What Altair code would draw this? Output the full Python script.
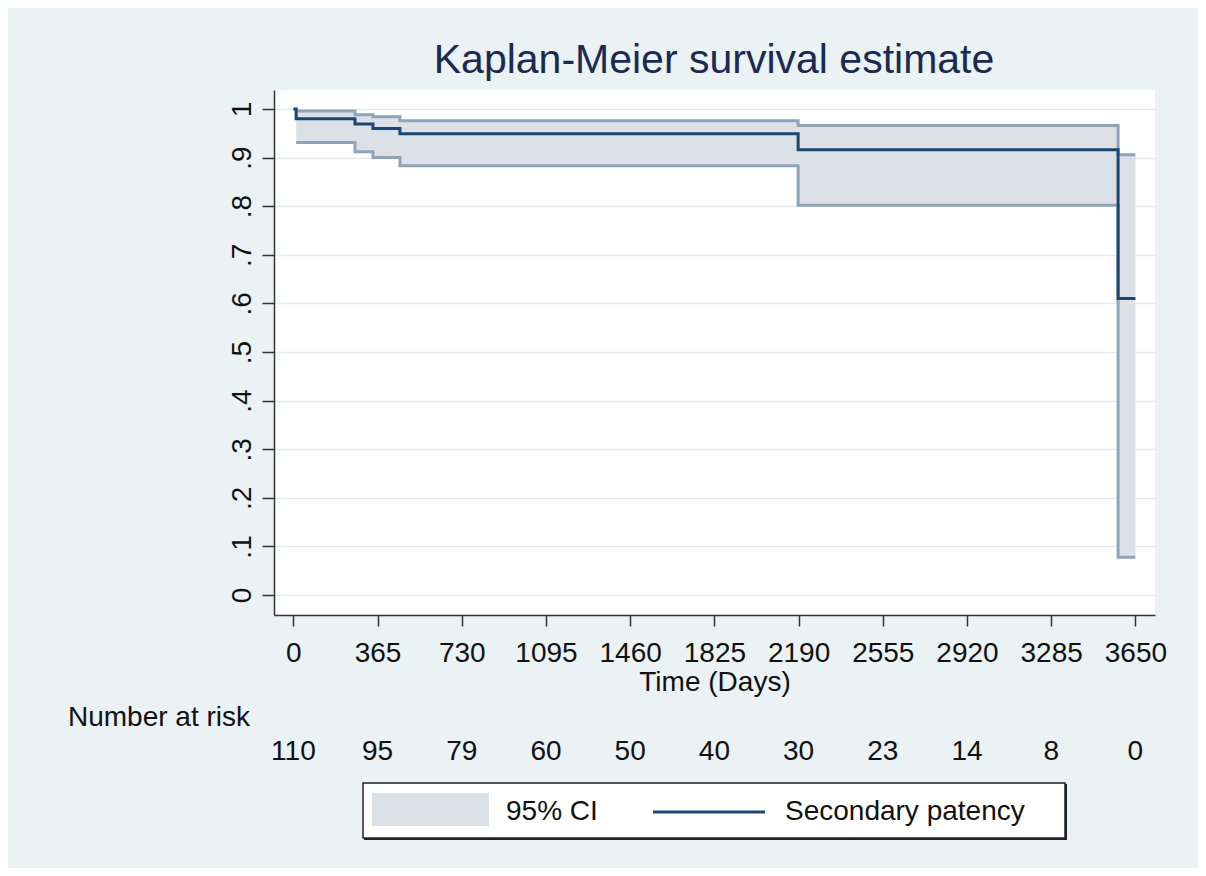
import altair as alt
import pandas as pd

# Kaplan-Meier estimate (step function)
km_time = [0, 12, 267, 345, 462, 2188, 3575, 3650]
km_surv = [1.0, 0.980, 0.969, 0.960, 0.949, 0.916, 0.610, 0.610]

# 95% confidence interval
ci_time = [12, 267, 345, 462, 2188, 3575, 3650]
ci_lower = [0.931, 0.912, 0.900, 0.883, 0.802, 0.078, 0.078]
ci_upper = [0.996, 0.988, 0.984, 0.976, 0.966, 0.906, 0.906]

# Number at risk table
risk_time = [0, 365, 730, 1095, 1460, 1825, 2190, 2555, 2920, 3285, 3650]
risk_n = [110, 95, 79, 60, 50, 40, 30, 23, 14, 8, 0]

x_ticks = risk_time
y_ticks = [0, 0.1, 0.2, 0.3, 0.4, 0.5, 0.6, 0.7, 0.8, 0.9, 1.0]

TITLE = "Kaplan-Meier survival estimate"
FONT = "Liberation Sans"
BG = "#EAF2F3"
CI_FILL = "#DCE1E8"
CI_LINE = "#8FA4B9"
KM_LINE = "#1A476F"

km_df = pd.DataFrame({"t": km_time, "s": km_surv})
ci_df = pd.DataFrame({"t": ci_time, "lo": ci_lower, "hi": ci_upper})
risk_df = pd.DataFrame({"t": risk_time, "n": [str(v) for v in risk_n]})

x_scale = alt.Scale(domain=[-84, 3735], nice=False, zero=False)
y_scale = alt.Scale(domain=[-0.041, 1.039], nice=False, zero=False)

x_axis = alt.Axis(
    values=x_ticks, title="Time (Days)", grid=False, format="d",
    labelFontSize=28, titleFontSize=28, labelFont=FONT, titleFont=FONT,
    labelColor="#111", titleColor="#111", titleFontWeight="normal",
    tickSize=11, tickWidth=1.5, tickColor="#333", domainColor="#333", domainWidth=1.5,
    labelPadding=13, titlePadding=1, labelFlush=False, labelOverlap=False,
)
y_axis = alt.Axis(
    values=y_ticks, title=None, grid=True, gridColor="#E2ECEF", gridWidth=1.5,
    labelFontSize=28, labelFont=FONT, labelColor="#111",
    labelAngle=270, labelAlign="center", labelBaseline="bottom",
    labelExpr="datum.value == 0 ? '0' : datum.value == 1 ? '1' : replace(format(datum.value, '.1f'), '0.', '.')",
    tickSize=12, tickWidth=1.5, tickColor="#333", domainColor="#333", domainWidth=1.5,
    labelPadding=6, labelFlush=False, labelOverlap=False,
)

x_enc = alt.X("t:Q", scale=x_scale, axis=x_axis)

ci_area = alt.Chart(ci_df).mark_area(interpolate="step-after", color=CI_FILL, opacity=1).encode(
    x=x_enc,
    y=alt.Y("lo:Q", scale=y_scale, axis=y_axis),
    y2="hi:Q",
)
ci_lo_line = alt.Chart(ci_df).mark_line(interpolate="step-after", color=CI_LINE, strokeWidth=3).encode(
    x="t:Q", y="lo:Q"
)
ci_hi_line = alt.Chart(ci_df).mark_line(interpolate="step-after", color=CI_LINE, strokeWidth=3).encode(
    x="t:Q", y="hi:Q"
)
km_line = alt.Chart(km_df).mark_line(interpolate="step-after", color=KM_LINE, strokeWidth=3).encode(
    x="t:Q", y="s:Q"
)

# Title
title_text = alt.Chart(pd.DataFrame({"txt": [TITLE]})).mark_text(
    font=FONT, fontSize=41, align="center", baseline="middle", color="#1C2A52"
).encode(x=alt.value(440), y=alt.value(-29), text="txt:N")

# Number at risk
risk_label = alt.Chart(pd.DataFrame({"txt": ["Number at risk"]})).mark_text(
    font=FONT, fontSize=28, align="left", baseline="middle", color="#111"
).encode(x=alt.value(-206), y=alt.value(628), text="txt:N")

risk_text = alt.Chart(risk_df).mark_text(
    font=FONT, fontSize=28, align="center", baseline="middle", color="#111"
).encode(x="t:Q", y=alt.value(662), text="n:N")

# Legend (drawn)
legend_shadow = alt.Chart(pd.DataFrame({"a": [0]})).mark_rect(fill="#222").encode(
    x=alt.value(90), x2=alt.value(793), y=alt.value(694), y2=alt.value(750)
)
legend_box = alt.Chart(pd.DataFrame({"a": [0]})).mark_rect(fill="white", stroke="#222", strokeWidth=1.5).encode(
    x=alt.value(89), x2=alt.value(791), y=alt.value(693), y2=alt.value(748)
)
legend_swatch = alt.Chart(pd.DataFrame({"a": [0]})).mark_rect(fill=CI_FILL).encode(
    x=alt.value(98), x2=alt.value(215), y=alt.value(703), y2=alt.value(736)
)
legend_line = alt.Chart(pd.DataFrame({"a": [0]})).mark_rule(color=KM_LINE, strokeWidth=3).encode(
    x=alt.value(379), x2=alt.value(491), y=alt.value(722)
)
legend_text = alt.Chart(pd.DataFrame({"txt": ["95% CI", "Secondary patency"], "px": [232, 511]})).mark_text(
    font=FONT, fontSize=28, align="left", baseline="middle", color="#111"
).encode(x=alt.X("px:Q", scale=None), y=alt.value(722), text="txt:N")

chart = alt.layer(
    ci_area, ci_lo_line, ci_hi_line, km_line,
    title_text, risk_label, risk_text,
    legend_shadow, legend_box, legend_swatch, legend_line, legend_text,
).properties(
    width=881, height=525,
    background=BG,
    autosize=alt.AutoSizeParams(type="none"),
    padding={"left": 266, "top": 82, "right": 43, "bottom": 253},
).configure_view(fill="white", stroke=None)

chart.save("out.html", embed_options={"renderer": "svg", "actions": False})
